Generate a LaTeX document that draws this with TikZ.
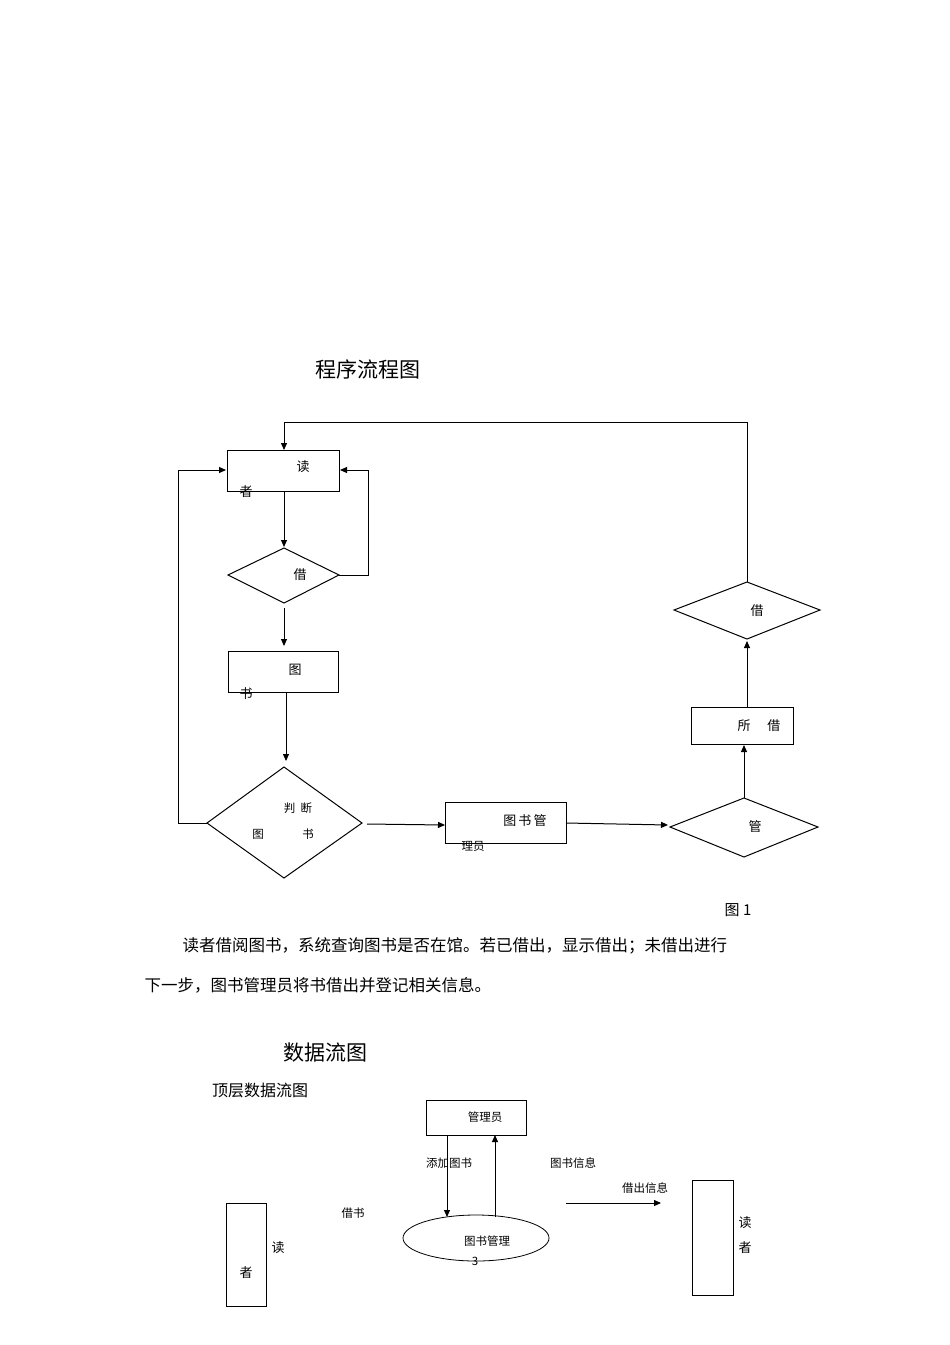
\documentclass[tikz,border=0pt]{standalone}
\usepackage{fontspec}
\setmainfont{Noto Sans CJK SC}
\usetikzlibrary{arrows.meta}
\begin{document}
\begin{tikzpicture}[x=1pt,y=-1pt,line width=1pt,
 arr/.style={-{Triangle[length=7pt,width=6pt]}},
 t/.style={inner sep=0pt,font=\fontsize{13}{13}\selectfont},
 s/.style={inner sep=0pt,font=\fontsize{11.5}{12}\selectfont}]
\useasboundingbox (0,0) rectangle (950,1345);
\node[t,font=\fontsize{21}{21}\selectfont] (t1) at (368,369) {程序流程图};
% shapes
\draw (227,450) rectangle (339,491); \coordinate (b1t) at (284,450); \coordinate (b1b) at (284,491);
\node[t] (l1) at (303,467) {读}; \node[t] (l2) at (246,492) {者};
\draw (228,575) -- (284,548) -- (339,575) -- (284,603) -- cycle;
\node[t] (l3) at (300,575) {借};
\draw (228,651) rectangle (338,692);
\node[t] (l4) at (295,670) {图}; \node[t] (l5) at (246,694) {书};
\draw (207,823) -- (284,767) -- (362,823) -- (284,878) -- cycle;
\node[s] (l6) at (298,808) {判\ \ 断}; \node[s] (l7) at (258,834) {图}; \node[s] (l8) at (308,834) {书};
\draw (445,802) rectangle (566,843);
\node[t] (l9) at (525,821) {图\,书\,管}; \node[s] (l10) at (473,846) {理员};
\draw (670,827) -- (744,798) -- (818,827) -- (744,857) -- cycle;
\node[t] (l11) at (755,827) {管};
\draw (691,707) rectangle (793,744);
\node[t] (l12) at (759,726) {所\hspace{1.3em}借};
\draw (674,610) -- (747,582) -- (820,610) -- (747,639) -- cycle;
\node[t] (l13) at (757,611) {借};
% connectors
\draw[arr] (747,582) -- (747,422) -- (284,422) -- (b1t);
\draw[arr] (b1b) -- (284,547);
\draw[arr] (339,575) -- (368,575) -- (368,470) -- (340,470);
\draw[arr] (284,608) -- (284,646);
\draw[arr] (286,692) -- (286,761);
\draw[arr] (207,823) -- (178,823) -- (178,470) -- (226,470);
\draw[arr] (367,824) -- (445,825);
\draw[arr] (566,823) -- (668,825);
\draw[arr] (744,798) -- (744,745);
\draw[arr] (747,707) -- (747,641);
\node[t,font=\fontsize{15}{15}\selectfont] (f1) at (738,910) {图 1};
\node[t,font=\fontsize{16.5}{16.5}\selectfont,anchor=west] (p1) at (182,946) {读者借阅图书，系统查询图书是否在馆。若已借出，显示借出；未借出进行};
\node[t,font=\fontsize{16.5}{16.5}\selectfont,anchor=west] (p2) at (144,985) {下一步，图书管理员将书借出并登记相关信息。};
\node[t,font=\fontsize{21}{21}\selectfont] (t2) at (325,1053) {数据流图};
\node[t,font=\fontsize{16}{16}\selectfont] (t3) at (260,1090) {顶层数据流图};
% DFD
\draw[line width=0.8pt] (426,1100) rectangle (526,1135);
\node[s] (m1) at (485,1117) {管理员};
\draw[arr] (447,1135) -- (447,1217);
\draw[arr] (495,1217) -- (495,1135);
\node[s] (m2) at (449,1163) {添加图书};
\node[s] (m3) at (573,1163) {图书信息};
\node[s] (m4) at (645,1188) {借出信息};
\draw[arr] (566,1203) -- (661,1203);
\node[s] (m5) at (353,1213) {借书};
\draw[line width=0.8pt] (476,1238) ellipse (73 and 23);
\node[s] (m6) at (487,1241) {图书管理};
\node[s] (m7) at (475,1261) {3};
\draw[line width=0.8pt] (226,1203) rectangle (266,1306);
\node[t] (m8) at (278,1248) {读}; \node[t] (m9) at (246,1273) {者};
\draw[line width=0.8pt] (692,1180) rectangle (733,1295);
\node[t] (m10) at (745,1223) {读}; \node[t] (m11) at (745,1248) {者};
\end{tikzpicture}
\end{document}
